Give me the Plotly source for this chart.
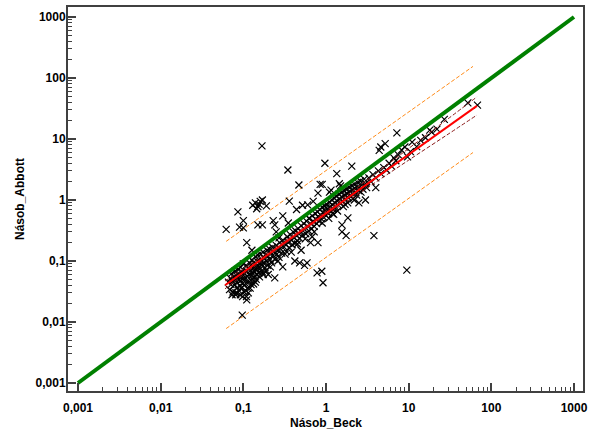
import plotly.graph_objects as go

# Body points (Násob_Beck, Násob_Abbott)
x_beck = [
    0.066, 0.068, 0.07, 0.071, 0.072, 0.074, 0.075, 0.076, 0.078, 0.079, 0.08, 0.081, 0.082, 0.083,
    0.085, 0.086, 0.087, 0.088, 0.09, 0.091, 0.092, 0.093, 0.094, 0.095, 0.096, 0.097, 0.098, 0.099,
    0.1, 0.1, 0.102, 0.104, 0.105, 0.106, 0.108, 0.11, 0.11, 0.112, 0.114, 0.115,
    0.117, 0.118, 0.12, 0.122, 0.124, 0.125, 0.127, 0.128, 0.13, 0.132, 0.134, 0.135, 0.137, 0.14,
    0.142, 0.144, 0.146, 0.148, 0.15, 0.152, 0.155, 0.158, 0.16, 0.163, 0.165, 0.168, 0.17, 0.173,
    0.176, 0.18, 0.183, 0.186, 0.19, 0.193, 0.197, 0.2,
    0.205, 0.21, 0.215, 0.22, 0.225, 0.23, 0.235, 0.24, 0.25, 0.255, 0.26, 0.27, 0.275, 0.28, 0.29,
    0.3, 0.31, 0.32, 0.33, 0.34, 0.35, 0.36, 0.37, 0.38, 0.39, 0.4, 0.41, 0.42, 0.43, 0.44, 0.45,
    0.46, 0.47, 0.48, 0.5, 0.5,
    0.52, 0.54, 0.55, 0.57, 0.58, 0.6, 0.62, 0.63, 0.65, 0.67, 0.68, 0.7, 0.72, 0.74, 0.75, 0.77,
    0.79, 0.8, 0.82, 0.84, 0.86, 0.88, 0.9, 0.92, 0.94, 0.96, 0.98, 1.0,
    1.02, 1.05, 1.07, 1.1, 1.12, 1.15, 1.18, 1.2, 1.22, 1.25, 1.28, 1.3, 1.33, 1.36, 1.4, 1.43,
    1.46, 1.5, 1.53, 1.56, 1.6, 1.64, 1.68, 1.72, 1.76, 1.8, 1.85, 1.9, 1.95, 2.0, 2.05, 2.1, 2.15,
    2.2, 2.25, 2.3, 2.4, 2.45, 2.5, 2.6, 2.7, 2.8, 2.9, 3.0, 3.1,
    3.3, 3.5, 3.7, 4.0, 4.3, 4.6, 5.0, 5.4, 5.8, 6.2, 6.6, 7.0, 7.5, 8.2, 9.0, 9.7, 10.5, 11, 12.5, 14,
    7.2, 18, 19, 27, 52, 68, 16, 22, 4.6, 5.2, 4.4,
    0.062, 0.086, 0.09, 0.1, 0.1, 0.15, 0.17, 0.23, 0.24, 0.127, 0.13, 0.14, 0.15, 0.16, 0.17,
    0.145, 0.155, 0.19, 0.168, 0.346, 0.47, 0.36, 0.44, 0.3, 0.25, 0.11, 0.35, 0.52, 0.6, 0.97,
    2.05, 1.35, 0.85, 0.9, 1.1, 1.5, 0.7, 0.8,
    0.59, 0.78, 0.89, 0.92, 0.24, 0.48, 0.081, 0.11, 0.097, 0.115, 9.5, 3.8, 1.84, 1.56, 1.56,
    1.75, 0.8, 0.65, 0.5, 0.55, 0.42, 0.3, 0.2, 0.14, 3.0, 2.5, 4.0,
    0.073, 0.084, 0.092, 0.103, 0.109, 0.121, 0.133, 0.143, 0.157, 0.174, 0.188, 0.212, 0.262,
    0.9, 1.08, 1.24, 1.38, 1.62, 1.83, 2.12, 2.35, 2.65, 1.15, 1.45,
    0.32, 0.38, 0.45, 0.56, 0.68, 0.72, 1.2, 1.7, 2.2, 0.27, 0.62, 1.0,
]
y_abbott = [
    0.045, 0.034, 0.052, 0.041, 0.062, 0.047, 0.031, 0.055, 0.04, 0.068, 0.05, 0.03, 0.058, 0.045,
    0.037, 0.073, 0.052, 0.033, 0.061, 0.047, 0.039, 0.079, 0.055, 0.036, 0.066, 0.05, 0.026, 0.043,
    0.058, 0.09, 0.04, 0.062, 0.051, 0.033, 0.085, 0.045, 0.068, 0.056, 0.036, 0.078,
    0.06, 0.046, 0.092, 0.07, 0.041, 0.058, 0.104, 0.064, 0.077, 0.048, 0.095, 0.068, 0.054, 0.118,
    0.081, 0.06, 0.072, 0.098, 0.125, 0.083, 0.064, 0.095, 0.075, 0.13, 0.088, 0.1, 0.066, 0.14,
    0.092, 0.11, 0.078, 0.128, 0.1, 0.15, 0.085, 0.12,
    0.16, 0.105, 0.135, 0.093, 0.168, 0.125, 0.14, 0.108, 0.18, 0.13, 0.15, 0.115, 0.2, 0.16, 0.135,
    0.22, 0.17, 0.19, 0.145, 0.25, 0.2, 0.165, 0.27, 0.22, 0.185, 0.3, 0.24, 0.195, 0.31, 0.26, 0.215,
    0.34, 0.28, 0.235, 0.38, 0.3,
    0.265, 0.41, 0.33, 0.28, 0.45, 0.37, 0.31, 0.5, 0.41, 0.34, 0.55, 0.45, 0.37, 0.6, 0.49, 0.41,
    0.64, 0.53, 0.45, 0.7, 0.57, 0.49, 0.76, 0.62, 0.52, 0.8, 0.66, 0.56,
    0.85, 0.7, 0.6, 0.92, 0.76, 0.66, 1.0, 0.83, 0.72, 1.08, 0.9, 0.77, 1.15, 0.97, 0.83, 1.25,
    1.04, 0.9, 1.32, 1.12, 0.96, 1.42, 1.2, 1.03, 1.5, 1.28, 1.1, 1.62, 1.37, 1.17, 1.7, 1.46, 1.25,
    1.82, 1.55, 1.32, 1.95, 1.64, 1.42, 2.05, 1.75, 1.5, 2.2, 1.85, 1.6,
    2.3, 2.0, 2.6, 2.3, 3.0, 2.7, 3.4, 3.1, 4.0, 3.6, 4.9, 4.4, 5.5, 6.6, 7.4, 5.1, 6.2, 8.9, 7.5, 9.5,
    12.6, 14, 13, 21, 39, 36, 10.5, 14.5, 7.4, 8.4, 6.5,
    0.33, 0.64, 0.36, 0.46, 0.35, 0.39, 0.39, 0.46, 0.39, 0.15, 0.82, 0.9, 0.78, 0.95, 1.0,
    0.72, 0.85, 0.8, 7.7, 3.1, 1.76, 0.96, 0.7, 0.55, 0.3, 0.2, 0.42, 0.82, 0.83, 4.0,
    3.6, 2.7, 1.8, 1.8, 1.35, 1.7, 0.95, 1.3,
    0.093, 0.064, 0.068, 0.044, 0.053, 0.093, 0.028, 0.023, 0.013, 0.03, 0.071, 0.26, 0.51, 0.39, 0.3,
    0.26, 0.2, 0.2, 0.15, 0.085, 0.1, 0.08, 0.06, 0.045, 1.0, 0.9, 1.6,
    0.028, 0.03, 0.028, 0.031, 0.026, 0.036, 0.042, 0.05, 0.055, 0.06, 0.07, 0.08, 0.1,
    0.42, 0.5, 0.58, 0.66, 0.78, 0.9, 1.05, 1.2, 1.35, 1.45, 1.85,
    0.13, 0.14, 0.19, 0.23, 0.25, 0.3, 0.6, 0.85, 1.0, 0.24, 0.5, 0.75,
]

# Identity line
ident_x = [0.001, 1000]
ident_y = [0.001, 1000]

# Regression line
reg_x = [0.06, 67]
reg_y = [0.040, 35]

# Confidence band of the regression (dark red dashed)
conf_x = [0.06, 0.15, 0.4, 1, 3, 10, 30, 67]
conf_up = [0.047, 0.107, 0.267, 0.66, 2.03, 7.0, 21.5, 49]
conf_lo = [0.035, 0.09, 0.238, 0.557, 1.51, 4.5, 12.0, 24.7]

# Prediction band (orange dashed)
pred_x = [0.062, 60]
pred_up = [0.21, 155]
pred_lo = [0.0078, 6.0]

tick_vals = [0.001, 0.01, 0.1, 1, 10, 100, 1000]
tick_text = ["0,001", "0,01", "0,1", "1", "10", "100", "1000"]

minor_vals = []
for dec in [0.001, 0.01, 0.1, 1, 10, 100]:
    for k in range(2, 10):
        minor_vals.append(dec * k)

fig = go.Figure()

fig.add_trace(go.Scatter(x=pred_x, y=pred_up, mode="lines",
                         line=dict(color="#ff8c1a", width=1, dash="4px,2px")))
fig.add_trace(go.Scatter(x=pred_x, y=pred_lo, mode="lines",
                         line=dict(color="#ff8c1a", width=1, dash="4px,2px")))

fig.add_trace(go.Scatter(x=x_beck, y=y_abbott, mode="markers",
                         marker=dict(symbol="x-thin", size=7,
                                     line=dict(color="black", width=1.2))))

fig.add_trace(go.Scatter(x=ident_x, y=ident_y, mode="lines",
                         line=dict(color="#008000", width=4)))

fig.add_trace(go.Scatter(x=reg_x, y=reg_y, mode="lines",
                         line=dict(color="#ff0000", width=2)))
fig.add_trace(go.Scatter(x=conf_x, y=conf_up, mode="lines", line_shape="spline",
                         line=dict(color="#8b1a1a", width=1, dash="4px,2px")))
fig.add_trace(go.Scatter(x=conf_x, y=conf_lo, mode="lines", line_shape="spline",
                         line=dict(color="#8b1a1a", width=1, dash="4px,2px")))

axis_font = dict(family="Liberation Sans, Arial, sans-serif", size=12, color="black", weight="bold")

fig.update_xaxes(
    type="log", range=[-3.121, 3.109], automargin=False,
    tickmode="array", tickvals=tick_vals, ticktext=tick_text,
    ticks="inside", ticklen=8, tickwidth=2, tickcolor="#404040",
    minor=dict(tickmode="array", tickvals=minor_vals, ticks="inside", ticklen=4,
               tickwidth=1, tickcolor="#404040", showgrid=False),
    showline=True, linecolor="#404040", linewidth=2, mirror=True,
    showgrid=False, zeroline=False, tickfont=axis_font, ticklabelstandoff=5,
)
fig.update_yaxes(
    type="log", range=[-3.131, 3.164], automargin=False,
    tickmode="array", tickvals=tick_vals, ticktext=tick_text,
    ticks="inside", ticklen=8, tickwidth=2, tickcolor="#404040",
    minor=dict(tickmode="array", tickvals=minor_vals, ticks="inside", ticklen=4,
               tickwidth=1, tickcolor="#404040", showgrid=False),
    showline=True, linecolor="#404040", linewidth=2, mirror=True,
    showgrid=False, zeroline=False, tickfont=axis_font, ticklabelstandoff=-2,
)

# Axis titles as annotations so they sit where the original has them
fig.add_annotation(text="Násob_Beck", xref="paper", yref="paper", x=0.5, y=0,
                   xanchor="center", yanchor="middle", yshift=-32,
                   showarrow=False, font=axis_font)
fig.add_annotation(text="Násob_Abbott", xref="paper", yref="paper", x=0, y=0.5,
                   xanchor="center", yanchor="middle", xshift=-48, textangle=-90,
                   showarrow=False, font=axis_font)

fig.update_layout(
    width=589, height=433,
    margin=dict(l=68, r=6, t=7, b=42),
    plot_bgcolor="white", paper_bgcolor="white",
    showlegend=False,
)

# drop the default 8px page margin so the figure fills the window
fig.write_html("out.html", config={"displayModeBar": False},
               post_script="document.body.style.margin='0';document.body.style.overflow='hidden';")
